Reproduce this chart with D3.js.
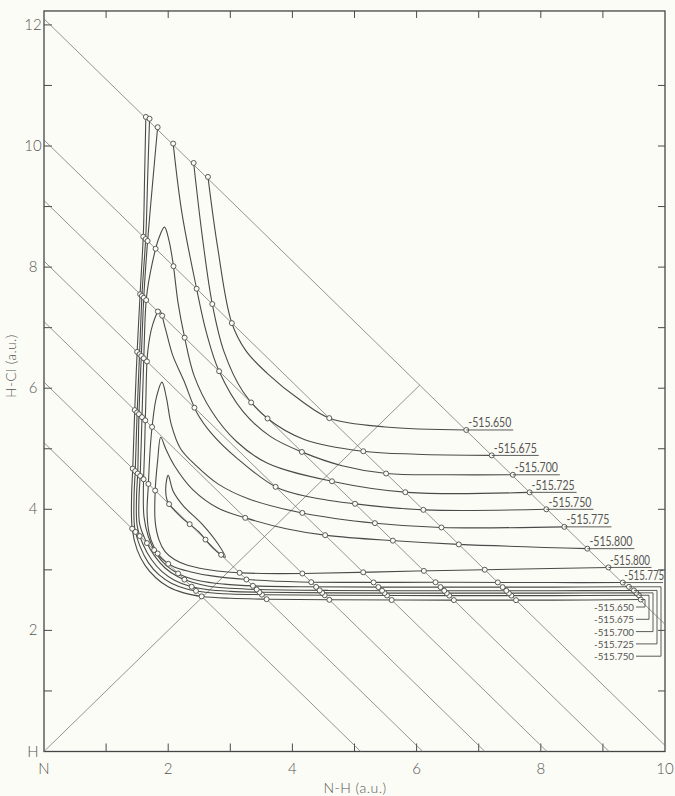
<!DOCTYPE html>
<html>
<head>
<meta charset="utf-8">
<script src="https://cdn.jsdelivr.net/npm/d3@7/dist/d3.min.js"></script>
<style>
  html, body { margin: 0; padding: 0; background: #fcfcf6; }
  svg { display: block; }
  text { font-family: Lato, "DejaVu Sans", sans-serif; fill: #555; }
</style>
</head>
<body>
<svg id="chart" width="675" height="796"></svg>
<script>
// Energy contours (hartree) on the collinear N-H-Cl surface
const levels = ["-515.650", "-515.675", "-515.700", "-515.725", "-515.750", "-515.775", "-515.800"];

// N-Cl distance lines (N-H + H-Cl = const, a.u.)
const diagonals = [12.1, 10.1, 9.1, 8.1, 7.1, 6.1, 5.1];

const xTickLabels = ["N", "2", "4", "6", "8", "10"];
const xTickValues = [0, 2, 4, 6, 8, 10];
const yTickLabels = ["H", "2", "4", "6", "8", "10", "12"];
const yTickValues = [0, 2, 4, 6, 8, 10, 12];

// contour -515.650: repulsive-wall branch and outer branch
const c650wall = [[9.61,2.51],[8.2,2.50],[6.5,2.50],[4.6,2.505],[3.6,2.515],[3.0,2.53],[2.55,2.56],[2.25,2.62],[2.0,2.72],[1.80,2.87],[1.63,3.07],[1.50,3.33],[1.42,3.68],[1.41,4.2],[1.43,4.7],[1.46,5.6],[1.50,6.6],[1.55,7.6],[1.60,8.55],[1.62,9.5],[1.64,10.48]];
const c650outer = [[2.64,9.49],[2.80,8.3],[3.02,7.09],[3.25,6.62],[3.59,6.25],[4.13,5.80],[4.61,5.50],[5.5,5.36],[6.8,5.31]];

// contour -515.675
const c675wall = [[9.58,2.58],[8.2,2.575],[6.5,2.575],[4.6,2.58],[3.56,2.59],[3.0,2.60],[2.6,2.63],[2.3,2.685],[2.05,2.78],[1.85,2.92],[1.68,3.12],[1.55,3.38],[1.46,3.70],[1.45,4.2],[1.47,4.66],[1.50,5.6],[1.54,6.6],[1.58,7.58],[1.64,8.52],[1.67,9.5],[1.70,10.45]];
const c675outer = [[2.41,9.72],[2.55,8.5],[2.71,7.39],[2.9,6.6],[3.2,5.95],[3.6,5.5],[4.2,5.15],[5.13,4.96],[6.0,4.91],[7.21,4.89]];

// contour -515.700
const c700wall = [[9.54,2.62],[8.2,2.615],[6.5,2.615],[4.6,2.62],[3.51,2.63],[3.0,2.645],[2.62,2.675],[2.35,2.73],[2.1,2.83],[1.9,2.97],[1.73,3.17],[1.59,3.43],[1.50,3.73],[1.49,4.2],[1.51,4.62],[1.53,5.6],[1.57,6.6],[1.61,7.56],[1.67,8.45],[1.75,9.4],[1.83,10.31]];
const c700outer = [[2.08,10.04],[2.22,8.9],[2.45,7.68],[2.62,6.9],[2.82,6.28],[3.2,5.62],[3.65,5.2],[4.17,4.94],[4.8,4.72],[5.52,4.59],[6.5,4.57],[7.55,4.57]];

// contours -515.725 to -515.800 close inside the NH valley
const c725 = [[9.50,2.66],[8.2,2.655],[6.5,2.655],[4.6,2.66],[3.45,2.675],[3.0,2.695],[2.65,2.73],[2.4,2.79],[2.15,2.89],[1.95,3.03],[1.78,3.23],[1.64,3.48],[1.54,3.76],[1.53,4.2],[1.55,4.58],[1.58,5.6],[1.61,6.6],[1.65,7.5],[1.74,8.05],[1.85,8.48],[1.94,8.66],[2.01,8.45],[2.08,8.05],[2.16,7.4],[2.26,6.86],[2.42,6.2],[2.7,5.62],[3.1,5.12],[3.6,4.76],[4.65,4.46],[5.85,4.28],[7.82,4.28]];
const c750 = [[9.42,2.72],[8.2,2.715],[6.5,2.715],[4.13,2.72],[3.40,2.735],[2.9,2.765],[2.5,2.82],[2.2,2.92],[1.97,3.07],[1.80,3.28],[1.68,3.55],[1.61,3.88],[1.60,4.3],[1.62,5.0],[1.64,5.8],[1.67,6.6],[1.75,7.05],[1.86,7.29],[1.95,7.0],[2.07,6.55],[2.25,6.13],[2.46,5.6],[2.7,5.25],[3.1,4.85],[3.75,4.36],[4.3,4.2],[5.02,4.09],[6.13,3.99],[8.09,4.00]];
const c775 = [[9.32,2.79],[8.2,2.79],[6.5,2.795],[4.13,2.80],[3.27,2.84],[2.7,2.90],[2.35,2.97],[2.09,3.05],[1.9,3.18],[1.77,3.38],[1.69,3.62],[1.66,3.95],[1.68,4.4],[1.71,5.0],[1.75,5.45],[1.81,5.85],[1.90,6.10],[1.97,5.85],[2.05,5.4],[2.2,5.0],[2.45,4.72],[2.8,4.42],[3.3,4.17],[4.16,3.94],[5.34,3.77],[6.39,3.70],[8.38,3.71]];
const c800 = [[9.09,3.04],[7.5,3.01],[6.0,2.98],[4.18,2.94],[3.5,2.94],[3.0,2.96],[2.6,3.01],[2.3,3.08],[2.1,3.17],[1.95,3.3],[1.85,3.5],[1.79,3.8],[1.79,4.3],[1.83,4.8],[1.88,5.19],[1.96,5.0],[2.1,4.72],[2.4,4.32],[2.8,4.02],[3.27,3.85],[3.9,3.68],[4.55,3.57],[5.65,3.48],[6.68,3.42],[8.75,3.35]];

// small closed contour near the symmetric-stretch line
const loopInner = [[2.0,4.56],[2.08,4.3],[2.25,4.05],[2.55,3.75],[2.8,3.43],[2.92,3.21],[2.72,3.36],[2.49,3.63],[2.2,3.88],[1.99,4.13],[1.96,4.35]];

// label anchors: outer ends (top row) and wall ends (lower rows)
const outerPieces = [c650outer, c675outer, c700outer, c725, c750, c775, c800];
const wallPieces  = [c650wall, c675wall, c700wall, c725, c750, c775, c800];

const svg = d3.select("#chart");
const x = d3.scaleLinear().domain([0, 10]).range([44, 665]);
const y = d3.scaleLinear().domain([0, 12]).range([751.5, 24.9]);
const yTop = 12.23;

const ink = "#4a4a4a";

// frame
svg.append("rect")
  .attr("x", x(0)).attr("y", y(yTop))
  .attr("width", x(10) - x(0)).attr("height", y(0) - y(yTop))
  .attr("fill", "none").attr("stroke", "#454545").attr("stroke-width", 1.3);

// inward ticks on all four sides
const tickLen = 8;
d3.range(1, 10).forEach(v => {
  svg.append("line").attr("x1", x(v)).attr("x2", x(v)).attr("y1", y(0)).attr("y2", y(0) - tickLen)
    .attr("stroke", ink).attr("stroke-width", 1);
  svg.append("line").attr("x1", x(v)).attr("x2", x(v)).attr("y1", y(yTop)).attr("y2", y(yTop) + tickLen - 1)
    .attr("stroke", ink).attr("stroke-width", 1);
});
d3.range(1, 13).forEach(v => {
  svg.append("line").attr("x1", x(0)).attr("x2", x(0) + tickLen).attr("y1", y(v)).attr("y2", y(v))
    .attr("stroke", ink).attr("stroke-width", 1);
  if (v < 12) svg.append("line").attr("x1", x(10)).attr("x2", x(10) - tickLen + 1).attr("y1", y(v)).attr("y2", y(v))
    .attr("stroke", ink).attr("stroke-width", 1);
});

// tick labels
xTickValues.forEach((v, i) => {
  svg.append("text").attr("x", x(v)).attr("y", 774).attr("text-anchor", "middle")
    .attr("font-size", 15).attr("font-weight", 300).text(xTickLabels[i]);
});
yTickValues.forEach((v, i) => {
  svg.append("text").attr("x", 33).attr("y", y(v) + 5).attr("text-anchor", "middle")
    .attr("font-size", 15).attr("font-weight", 300).text(yTickLabels[i]);
});

// axis titles
svg.append("text").attr("x", 355).attr("y", 793).attr("text-anchor", "middle")
  .attr("font-size", 14).attr("font-weight", 300).attr("letter-spacing", 0.5).text("N-H (a.u.)");
svg.append("text").attr("transform", "translate(16,366) rotate(-90)").attr("text-anchor", "middle")
  .attr("font-size", 13.5).attr("font-weight", 300).attr("letter-spacing", 0.5).text("H-Cl (a.u.)");

// N-Cl distance lines and the symmetric line N-H = H-Cl
const gridG = svg.append("g").attr("stroke", "#707070").attr("stroke-width", 0.75).attr("fill", "none");
diagonals.forEach(c => {
  const x0 = Math.max(0, c - yTop), x1 = Math.min(10, c);
  gridG.append("line").attr("x1", x(x0)).attr("y1", y(c - x0)).attr("x2", x(x1)).attr("y2", y(c - x1));
});
const symEnd = diagonals[0] / 2;
gridG.append("line").attr("x1", x(0)).attr("y1", y(0)).attr("x2", x(symEnd)).attr("y2", y(symEnd));

// contour curves
const line = d3.line().x(d => x(d[0])).y(d => y(d[1])).curve(d3.curveCatmullRom.alpha(0.5));
const lineClosed = d3.line().x(d => x(d[0])).y(d => y(d[1])).curve(d3.curveCatmullRomClosed.alpha(0.5));

const pieces = [c650wall, c650outer, c675wall, c675outer, c700wall, c700outer, c725, c750, c775, c800];
const contourG = svg.append("g").attr("fill", "none").attr("stroke", ink).attr("stroke-width", 1.1);
const paths = pieces.map(p => contourG.append("path").attr("d", line(p)).node());
paths.push(contourG.append("path").attr("d", lineClosed(loopInner)).node());

// markers where each contour meets an inner N-Cl distance line
const marks = [];
paths.forEach(node => {
  const L = node.getTotalLength();
  const pts = [];
  for (let s = 0; s <= L; s += 0.5) {
    const p = node.getPointAtLength(s);
    pts.push([x.invert(p.x), y.invert(p.y)]);
  }
  diagonals.slice(1).forEach(c => {
    for (let i = 1; i < pts.length; i++) {
      const f0 = pts[i - 1][0] + pts[i - 1][1] - c, f1 = pts[i][0] + pts[i][1] - c;
      if ((f0 < 0) !== (f1 < 0)) {
        const t = f0 / (f0 - f1);
        marks.push([pts[i - 1][0] + t * (pts[i][0] - pts[i - 1][0]), pts[i - 1][1] + t * (pts[i][1] - pts[i - 1][1])]);
      }
    }
  });
});
// both ends of every open piece lie on the outer N-Cl line
pieces.forEach(p => { marks.push(p[0]); marks.push(p[p.length - 1]); });

svg.append("g").selectAll("circle").data(marks).join("circle")
  .attr("cx", d => x(d[0])).attr("cy", d => y(d[1])).attr("r", 2.5)
  .attr("fill", "#fcfcf6").attr("stroke", ink).attr("stroke-width", 0.9);

// labels
const labelG = svg.append("g");
const lab = (px, py, txt, anchor, size, len) => labelG.append("text").attr("x", px).attr("y", py)
  .attr("text-anchor", anchor).attr("font-size", size).attr("textLength", len)
  .attr("lengthAdjust", "spacingAndGlyphs").text(txt);
const stroke = sel => sel.attr("stroke", ink).attr("stroke-width", 0.9).attr("fill", "none");

// outer ends: text sits on an underline drawn from the end point
outerPieces.forEach((p, i) => {
  const e = p[p.length - 1];
  const ex = x(e[0]), ey = y(e[1]);
  stroke(labelG.append("line").attr("x1", ex).attr("x2", ex + 47).attr("y1", ey).attr("y2", ey));
  lab(ex + 2, ey - 2.5, levels[i], "start", 12.5, 43);
});

// inner ends of -515.800 and -515.775
[6, 5].forEach(i => {
  const e = wallPieces[i][0];
  const ex = x(e[0]), ey = y(e[1]);
  stroke(labelG.append("line").attr("x1", ex).attr("x2", Math.min(ex + 43, x(10) - 2)).attr("y1", ey).attr("y2", ey));
  lab(ex + 1.5, ey - 2.5, levels[i], "start", 12.5, 40);
});

// tightly packed wall ends: labels stacked below with bracket leaders
[0, 1, 2, 3, 4].forEach(i => {
  const e = wallPieces[i][0];
  const ex = x(e[0]), ey = y(e[1]);
  const ty = 611 + 12.3 * i;
  const vx = x(10) - 20 + 4 * i;
  stroke(labelG.append("polyline").attr("points",
    `${ex},${ey} ${vx},${ey} ${vx},${ty - 4} ${x(10) - 29},${ty - 4}`));
  lab(x(10) - 31, ty, levels[i], "end", 10, 40);
});
</script>
</body>
</html>
